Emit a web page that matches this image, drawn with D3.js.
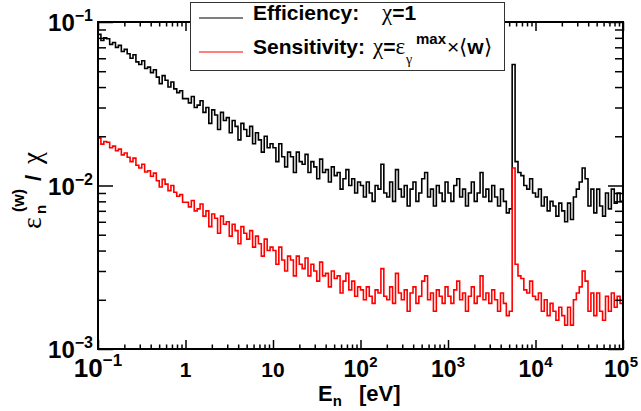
<!DOCTYPE html>
<html>
<head>
<meta charset="utf-8">
<script src="https://cdn.jsdelivr.net/npm/d3@7"></script>
<style>
  body { margin: 0; background: #fff; }
  svg { display: block; font-family: "Liberation Sans", Arial, sans-serif; font-weight: bold; }
  .greek { font-family: "Liberation Serif", "DejaVu Serif", serif; font-weight: normal; }
</style>
</head>
<body>
<div id="chart"></div>
<script>
// ---- data ----
// log-spaced bins, 30 per decade, from 0.1 eV to 1e5 eV
const binsPerDecade = 30;
const eMin = 0.1, eMax = 1e5;

// efficiency, chi = 1   (units of 1e-3)
const efficiency_e3 = [
  84, 77, 80, 79, 73, 75, 70, 72, 66, 68, 64, 60, 63, 57, 55, 58, 52, 53, 49, 51, 46, 42, 47, 44, 40, 43, 39, 37, 38, 34,
  34, 32, 35, 30, 31, 33, 28, 30, 24, 29, 27, 22, 28, 25, 26, 21, 25, 23, 19, 24, 22, 20, 23, 18, 21, 19, 16, 20, 17, 18,
  17, 14, 18, 15, 13, 16, 15, 12, 16, 14, 13.5, 15.5, 12, 14, 13, 11, 14.5, 12, 12.5, 10.5, 13, 11.5, 12, 9.5, 11, 12.5, 10, 11, 9, 10.5,
  10, 8.5, 10.5, 9, 8, 10, 9.5, 13.5, 9, 8.5, 10.5, 8, 12.5, 9.5, 8.5, 10, 7.5, 9.5, 10.5, 8, 9, 11, 12, 8.5, 9.5, 7.5, 10, 9, 8, 10.5,
  9, 8, 10, 11, 8.5, 9.5, 7.5, 9, 10.5, 8, 9, 12, 8.5, 9.5, 8, 10, 8.5, 7.5, 9.5, 8, 6.8, 7.2, 55, 14, 12, 11.5, 10, 9.5, 11, 9,
  8.5, 9.5, 7.5, 8.5, 7, 8, 7.5, 6.5, 7.8, 7, 6, 7.8, 6.2, 8.5, 9.5, 10.5, 12.8, 11, 7.5, 9.5, 6.8, 9.5, 7.5, 6.5, 9, 7.2, 9.5, 7.8, 9, 8
];

// sensitivity, chi = eps_gamma^max x <w>   (units of 1e-3)
const sensitivity_e3 = [
  19.5, 17.9, 18.6, 18.4, 17.0, 17.4, 16.3, 16.7, 15.4, 15.8, 14.9, 14.0, 14.7, 13.3, 12.8, 13.5, 12.1, 12.3, 11.4, 11.9, 10.7, 9.8, 10.9, 10.2, 9.3, 10.0, 9.1, 8.6, 8.8, 7.9,
  7.9, 7.4, 8.1, 7.0, 7.2, 7.7, 6.5, 7.0, 5.6, 6.7, 6.3, 5.1, 6.5, 5.8, 6.0, 4.9, 5.8, 5.3, 4.4, 5.6, 5.1, 4.7, 5.3, 4.2, 4.9, 4.4, 3.7, 4.7, 4.0, 4.2,
  4.0, 3.3, 4.2, 3.5, 3.0, 3.7, 3.5, 2.8, 3.7, 3.3, 3.1, 3.6, 2.8, 3.3, 3.0, 2.6, 3.4, 2.8, 2.9, 2.4, 3.0, 2.7, 2.8, 2.2, 2.6, 2.9, 2.3, 2.6, 2.1, 2.4,
  2.3, 2.0, 2.4, 2.1, 1.9, 2.3, 2.2, 3.1, 2.1, 2.0, 2.4, 1.9, 2.9, 2.2, 2.0, 2.3, 1.7, 2.2, 2.4, 1.9, 2.1, 2.6, 2.8, 2.0, 2.2, 1.7, 2.3, 2.1, 1.9, 2.4,
  2.1, 1.9, 2.3, 2.6, 2.0, 2.2, 1.7, 2.1, 2.4, 1.9, 2.1, 2.8, 2.0, 2.2, 1.9, 2.3, 2.0, 1.7, 2.2, 1.9, 1.6, 1.7, 12.8, 3.3, 2.8, 2.7, 2.3, 2.2, 2.6, 2.1,
  2.0, 2.2, 1.7, 2.0, 1.6, 1.9, 1.7, 1.5, 1.8, 1.6, 1.4, 1.8, 1.4, 2.0, 2.2, 2.4, 3.0, 2.6, 1.7, 2.2, 1.6, 2.2, 1.7, 1.5, 2.1, 1.7, 2.2, 1.8, 2.1, 1.9
];

const xMajor = [0.1, 1, 10, 100, 1e3, 1e4, 1e5];
const xLabels = [["10", "\u22121"], ["1", null], ["10", null], ["10", "2"], ["10", "3"], ["10", "4"], ["10", "5"]];
const yMajor = [1e-3, 1e-2, 1e-1];
const yLabels = [["10", "\u22123"], ["10", "\u22122"], ["10", "\u22121"]];

// ---- layout ----
const width = 641, height = 411;
const plot = { left: 98, right: 623, top: 22, bottom: 349 };

const svg = d3.select("#chart").append("svg").attr("width", width).attr("height", height);

const x = d3.scaleLog().domain([eMin, eMax]).range([plot.left, plot.right]);
const y = d3.scaleLog().domain([1e-3, 1e-1]).range([plot.bottom, plot.top]);

const nBins = efficiency_e3.length;
const edges = d3.range(nBins + 1).map(i => eMin * Math.pow(10, i / binsPerDecade));

function minorTicks(majors) {
  const out = [];
  for (let k = 0; k < majors.length - 1; k++)
    for (let m = 2; m <= 9; m++) out.push(majors[k] * m);
  return out;
}
const xMinor = minorTicks(xMajor);
const yMinor = minorTicks(yMajor);

// ---- histograms ----
const step = d3.line().x(d => x(d[0])).y(d => y(d[1])).curve(d3.curveStepAfter);
function histPoints(vals) {
  const pts = vals.map((v, i) => [edges[i], v * 1e-3]);
  pts.push([edges[nBins], vals[nBins - 1] * 1e-3]);
  return pts;
}
svg.append("path").attr("d", step(histPoints(efficiency_e3)))
  .attr("fill", "none").attr("stroke", "#000").attr("stroke-width", 1.6);
svg.append("path").attr("d", step(histPoints(sensitivity_e3)))
  .attr("fill", "none").attr("stroke", "#ff0000").attr("stroke-width", 1.6);

// ---- axes (ROOT style: ticks inside, on all four sides) ----
function addAxis(axisFn, scale, vals, size, tr) {
  const g = svg.append("g").attr("transform", tr)
    .call(axisFn(scale).tickValues(vals).tickSize(-size).tickSizeOuter(0).tickFormat(""));
  g.select(".domain").remove();
  g.selectAll(".tick line").attr("stroke", "#000").attr("stroke-width", 1.5);
}
addAxis(d3.axisBottom, x, xMajor, 9, `translate(0,${plot.bottom})`);
addAxis(d3.axisBottom, x, xMinor, 4.5, `translate(0,${plot.bottom})`);
addAxis(d3.axisTop, x, xMajor, 9, `translate(0,${plot.top})`);
addAxis(d3.axisTop, x, xMinor, 4.5, `translate(0,${plot.top})`);
addAxis(d3.axisLeft, y, yMajor, 15, `translate(${plot.left},0)`);
addAxis(d3.axisLeft, y, yMinor, 8, `translate(${plot.left},0)`);
addAxis(d3.axisRight, y, yMajor, 15, `translate(${plot.right},0)`);
addAxis(d3.axisRight, y, yMinor, 8, `translate(${plot.right},0)`);

svg.append("rect")
  .attr("x", plot.left).attr("y", plot.top)
  .attr("width", plot.right - plot.left).attr("height", plot.bottom - plot.top)
  .attr("fill", "none").attr("stroke", "#000").attr("stroke-width", 2);

// tick labels
xMajor.forEach((v, i) => {
  const [base, exp] = xLabels[i];
  const last = i === xMajor.length - 1;
  const big = i === 0;
  const t = svg.append("text")
    .attr("x", last ? 638 : x(v)).attr("y", 377)
    .attr("text-anchor", last ? "end" : "middle")
    .attr("font-size", exp ? (big ? 26 : 23) : 21);
  t.append("tspan").text(base);
  if (exp) t.append("tspan").attr("dy", big ? -11 : -10).attr("font-size", big ? 17 : 15).text(exp);
});
yMajor.forEach((v, i) => {
  const [base, exp] = yLabels[i];
  const t = svg.append("text")
    .attr("x", 93).attr("y", y(v) + 9)
    .attr("text-anchor", "end").attr("font-size", 24);
  t.append("tspan").text(base);
  t.append("tspan").attr("dy", -10).attr("font-size", 16).text(exp);
});

// axis titles
const xt = svg.append("text").attr("x", 318).attr("y", 401).attr("font-size", 22);
xt.append("tspan").text("E");
xt.append("tspan").attr("dy", 5).attr("font-size", 15).text("n");
xt.append("tspan").attr("x", 359).attr("dy", -5).text("[eV]");

const yt = svg.append("g").attr("transform", "translate(41,229) rotate(-90)");
yt.append("text").attr("class", "greek").attr("x", 0).attr("y", 0).attr("font-size", 28).text("\u03b5");
yt.append("text").attr("x", 15).attr("y", 5).attr("font-size", 15).text("n");
yt.append("text").attr("x", 17).attr("y", -17).attr("font-size", 16).text("(w)");
yt.append("text").attr("x", 48).attr("y", 0).attr("font-size", 22).text("/");
yt.append("text").attr("class", "greek").attr("x", 65).attr("y", 0).attr("font-size", 27).text("\u03c7");

// ---- legend ----
const lg = svg.append("g");
lg.append("rect").attr("x", 190.5).attr("y", 2.5).attr("width", 314).attr("height", 68)
  .attr("fill", "#fff").attr("stroke", "#333").attr("stroke-width", 1);
lg.append("line").attr("x1", 199).attr("x2", 243).attr("y1", 18).attr("y2", 18)
  .attr("stroke", "#000").attr("stroke-width", 1.2);
lg.append("line").attr("x1", 199).attr("x2", 243).attr("y1", 52).attr("y2", 52)
  .attr("stroke", "#ff0000").attr("stroke-width", 1.2);
lg.append("text").attr("x", 253).attr("y", 20).attr("font-size", 21).text("Efficiency:");
const r1 = lg.append("text").attr("x", 382).attr("y", 20).attr("font-size", 21);
r1.append("tspan").attr("class", "greek").attr("font-size", 23).text("\u03c7");
r1.append("tspan").text("=1");
lg.append("text").attr("x", 253).attr("y", 54).attr("font-size", 21).text("Sensitivity:");
const r2 = lg.append("text").attr("x", 373).attr("y", 54).attr("font-size", 21);
r2.append("tspan").attr("class", "greek").attr("font-size", 23).text("\u03c7");
r2.append("tspan").text("=");
r2.append("tspan").attr("class", "greek").attr("font-size", 23).text("\u03b5");
lg.append("text").attr("class", "greek").attr("x", 406).attr("y", 64).attr("font-size", 14).text("\u03b3");
lg.append("text").attr("x", 416).attr("y", 44).attr("font-size", 15).text("max");
const r3 = lg.append("text").attr("x", 447).attr("y", 54).attr("font-size", 21);
r3.append("tspan").attr("font-weight", "normal").text("\u00d7\u27e8");
r3.append("tspan").text("w");
r3.append("tspan").attr("font-weight", "normal").text("\u27e9");
</script>
</body>
</html>
